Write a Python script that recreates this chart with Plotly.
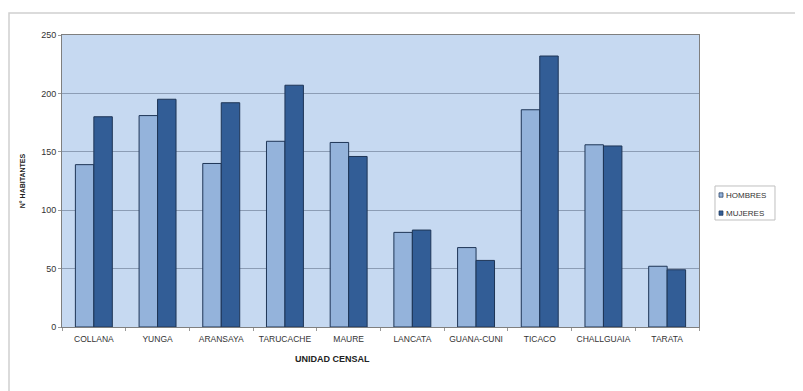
import plotly.graph_objects as go

categories = ["COLLANA", "YUNGA", "ARANSAYA", "TARUCACHE", "MAURE", "LANCATA",
              "GUANA-CUNI", "TICACO", "CHALLGUAIA", "TARATA"]
hombres = [139, 181, 140, 159, 158, 81, 68, 186, 156, 52]
mujeres = [180, 195, 192, 207, 146, 83, 57, 232, 155, 49]
y_ticks = [0, 50, 100, 150, 200, 250]
series_names = ["HOMBRES", "MUJERES"]
series_colors = ["#94B3DB", "#325D96"]

FONT = "Liberation Sans, Arial, sans-serif"

fig = go.Figure()
for name, vals, col in zip(series_names, [hombres, mujeres], series_colors):
    fig.add_trace(go.Bar(name=name, x=categories, y=vals,
                         marker=dict(color=col, line=dict(color="#1E3556", width=1))))

# manual compact legend (paper coords)
shapes = [
    dict(type="rect", xref="paper", yref="paper",
         x0=-0.0832, x1=1.25, y0=-0.4, y1=1.075,
         line=dict(color="#D0D0D0", width=1.5), layer="below"),
    dict(type="rect", xref="paper", yref="paper",
         x0=1.0251, x1=1.1193, y0=0.3664, y1=0.4829,
         line=dict(color="#BFBFBF", width=1), fillcolor="white"),
]
annotations = [dict(text="<b>UNIDAD CENSAL</b>", xref="paper", yref="paper",
                    x=0.425, y=-0.085, xanchor="center", yanchor="top", showarrow=False,
                    font=dict(size=9, color="#222222", family=FONT))]
for i, (name, col) in enumerate(zip(series_names, series_colors)):
    yc = 0.452 - i * 0.062
    shapes.append(dict(type="rect", xref="paper", yref="paper",
                       x0=1.0314, x1=1.0377, y0=yc - 0.0075, y1=yc + 0.0075,
                       fillcolor=col, line=dict(color="#1E3556", width=0.7)))
    annotations.append(dict(text=name, xref="paper", yref="paper", x=1.0395, y=yc,
                            xanchor="left", yanchor="middle", showarrow=False,
                            font=dict(size=8, color="#333333", family=FONT)))

fig.update_layout(
    width=795, height=383,
    margin=dict(l=54, r=104, t=27, b=64),
    paper_bgcolor="white",
    plot_bgcolor="#C6D9F1",
    barmode="group",
    bargap=0.42,
    bargroupgap=0,
    showlegend=False,
    font=dict(family=FONT, color="#333333"),
    xaxis=dict(showline=True, linecolor="#7F7F7F", linewidth=1, mirror=True,
               ticks="outside", ticklen=3, tickcolor="#999999", tickson="boundaries",
               ticklabelstandoff=4,
               tickfont=dict(size=8.5, color="#333333"), showgrid=False),
    yaxis=dict(range=[0, 250], tickvals=y_ticks, showline=True, linecolor="#7F7F7F",
               linewidth=1, mirror=True, ticks="outside", ticklen=3, tickcolor="#999999",
               tickfont=dict(size=9, color="#333333"), gridcolor="#8C9DB5", gridwidth=1,
               zeroline=False,
               title=dict(text="<b>N° HABITANTES</b>", font=dict(size=7, color="#222222"),
                          standoff=14)),
    shapes=shapes,
    annotations=annotations,
)

fig.write_html("out.html")
